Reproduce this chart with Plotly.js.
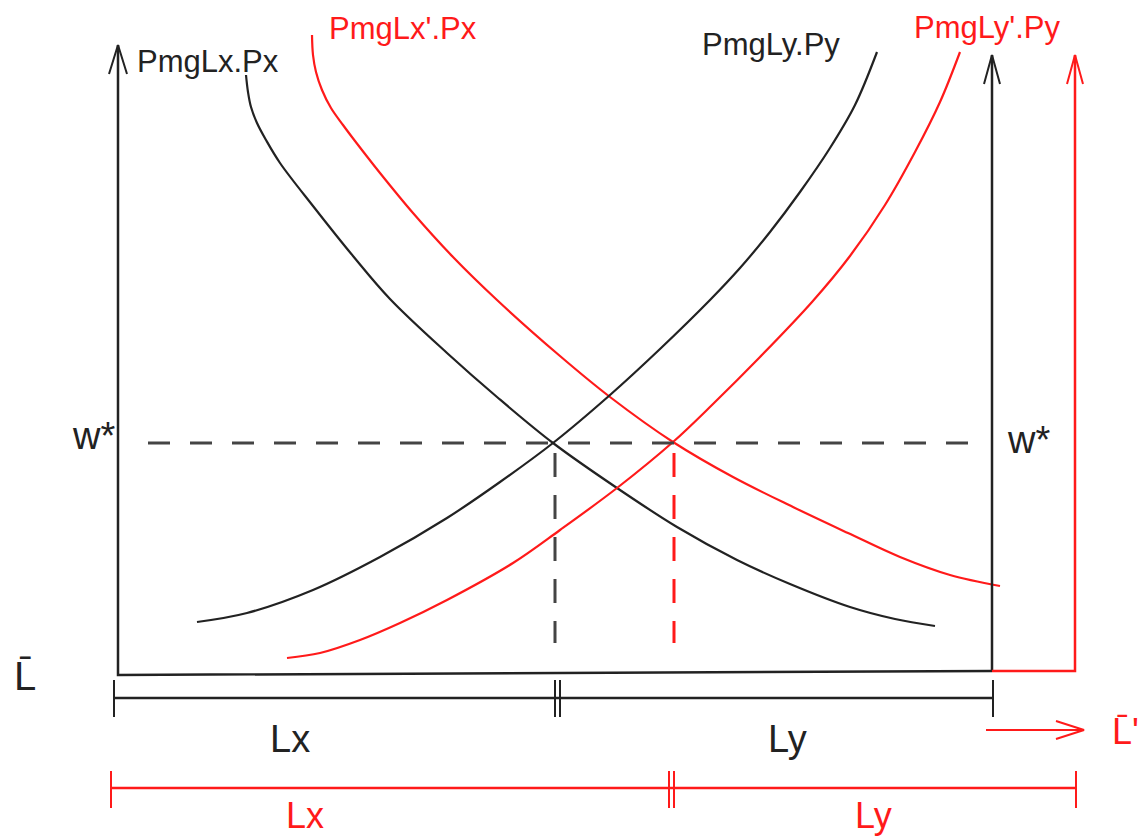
<!DOCTYPE html>
<html><head><meta charset="utf-8">
<script src="https://cdn.plot.ly/plotly-3.0.1.min.js"></script>
<style>html,body{margin:0;padding:0;background:#fff}</style>
</head><body><div id="chart" style="width:1144px;height:839px"></div>
<script>
// ---- curve data (diagram coordinates, y grows downward) ----
const pmgLxPxX  = [246,248,251,257,266,280,313,353,390,447,497,553,617,677,737,790,850,895,935];
const pmgLxPxY  = [75,92,107,123,140,163,206,256,299,353,397,443,488,527,560,584,607,619,626];
const pmgLx2PxX = [312,313,316,322,331,343,355,380,413,453,497,560,610,673,733,793,848,900,950,1000];
const pmgLx2PxY = [35,55,72,90,108,125,141,173,213,257,300,356,397,442,477,507,533,557,575,586];
const pmgLyPyX  = [197,247,313,380,447,500,553,610,660,710,740,770,800,830,855,877];
const pmgLyPyY  = [622,613,590,557,518,482,443,395,349,300,268,232,192,148,105,52];
const pmgLy2PyX = [287,320,360,400,447,513,560,617,673,713,760,812,850,885,915,940,960];
const pmgLy2PyY = [658,653,640,623,600,563,530,488,442,404,357,302,256,205,152,102,52];

// ---- frame: axes, equilibrium guides, measurement bars ----
const leftAxisX = [118,118,992], leftAxisY = [45,675,671];
const leftArrowX = [109,118,127], leftArrowY = [74,45,74];
const rightAxisX = [992,992], rightAxisY = [671,55];
const rightArrowX = [984,992,1000], rightArrowY = [84,55,84];
const redAxisX = [992,1075,1075], redAxisY = [671,671,55];
const redArrowX = [1067,1075,1083], redArrowY = [84,55,84];
const wageX = [148,970], wageY = [443,443];
const eqBlackX = [555,555], eqBlackY = [453,643];
const eqRedX = [674,674], eqRedY = [453,643];
const barBlackX = [114,993], barBlackY = [698,698];
const barBlackTicks = [114,555,560,993];
const barRedX = [111,1076], barRedY = [788,788];
const barRedTicks = [111,669,674,1076];
const shiftArrowX = [986,1084], shiftArrowY = [730,730];
const shiftHeadX = [1056,1084,1056], shiftHeadY = [721,730,739];

// ---- labels ----
const labelText = ["PmgLx.Px","PmgLx'.Px","PmgLy.Py","PmgLy'.Py","w*","w*","L\u0304","Lx","Ly","Lx","Ly","L\u0304'"];
const labelX    = [135,327,700,912,70,1005,12,290,787,305,873,1110];
const labelY    = [61,28,44,27,436,440,676,739,739,815,815,731];
const labelRed  = [false,true,false,true,false,false,false,false,false,true,true,true];
const labelSize = [31,31,31,31,38,38,40,38,38,36,36,36];
const labelAnchor = ["left","left","left","left","left","left","left","center","center","center","center","left"];

const BLACK = "#222222", RED = "#ff1a1a", DASH = "#444444";
const traces = [];
function line(x, y, color, width, dash, shape) {
  traces.push({type:"scatter", mode:"lines", x:x, y:y, hoverinfo:"skip",
    line:{color:color, width:width, dash:dash||"solid", shape:shape||"linear", smoothing:1}});
}
// curves
line(pmgLxPxX, pmgLxPxY, BLACK, 2.2, null, "spline");
line(pmgLx2PxX, pmgLx2PxY, RED, 2.2, null, "spline");
line(pmgLyPyX, pmgLyPyY, BLACK, 2.2, null, "spline");
line(pmgLy2PyX, pmgLy2PyY, RED, 2.2, null, "spline");
// axes
line(leftAxisX, leftAxisY, BLACK, 2.5);
line(leftArrowX, leftArrowY, BLACK, 2);
line(rightAxisX, rightAxisY, BLACK, 2.5);
line(rightArrowX, rightArrowY, BLACK, 2);
line(redAxisX, redAxisY, RED, 2.5);
line(redArrowX, redArrowY, RED, 2);
// guides
line(wageX, wageY, DASH, 3, "22px,20px");
line(eqBlackX, eqBlackY, DASH, 3, "24px,18px");
line(eqRedX, eqRedY, RED, 3, "24px,18px");
// bars
line(barBlackX, barBlackY, BLACK, 2.5);
barBlackTicks.forEach(t => line([t,t],[680,717], BLACK, 2));
line(barRedX, barRedY, RED, 2.5);
barRedTicks.forEach(t => line([t,t],[771,808], RED, 2));
line(shiftArrowX, shiftArrowY, RED, 2);
line(shiftHeadX, shiftHeadY, RED, 2);

const annotations = labelText.map((t,i) => ({
  text:t, x:labelX[i], y:labelY[i], xref:"x", yref:"y", showarrow:false,
  xanchor:labelAnchor[i], yanchor:"middle",
  font:{family:"Liberation Sans, Arial, sans-serif", size:labelSize[i], color: labelRed[i] ? RED : BLACK}
}));

const layout = {
  width:1144, height:839, margin:{l:0,r:0,t:0,b:0},
  paper_bgcolor:"#ffffff", plot_bgcolor:"#ffffff", showlegend:false,
  xaxis:{range:[0,1144], visible:false, fixedrange:true},
  yaxis:{range:[839,0], visible:false, fixedrange:true},
  annotations:annotations
};
Plotly.newPlot("chart", traces, layout, {displayModeBar:false, staticPlot:true});
</script></body></html>
